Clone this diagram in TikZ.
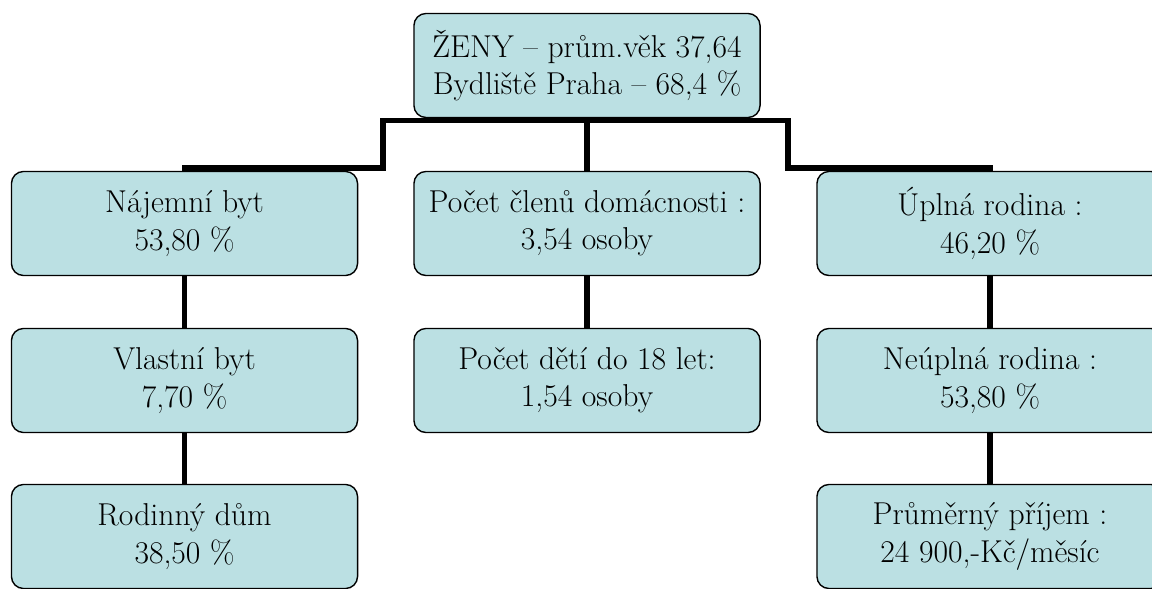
\documentclass[tikz,border=0pt]{standalone}
\usepackage{fontspec}
\definecolor{boxfill}{RGB}{187,224,227}
\tikzset{
  box/.style={draw, line width=1pt, rounded corners=0.3cm, fill=boxfill,
    minimum width=8.65cm, minimum height=2.6cm, align=center,
    font=\fontsize{22.5}{26.5}\selectfont},
  link/.style={line width=4pt}
}
\begin{document}
\begin{tikzpicture}[x=0.025cm,y=-0.025cm]
        \useasboundingbox (0,0) rectangle (1152,589);
        \clip (0,0) rectangle (1152,589);

        \node[box] (top) at (587, 65.5) {ŽENY – prům.věk 37,64\\Bydliště Praha – 68,4 \%};

        \node[box] (byt1) at (184.5, 223.5) {Nájemní byt\\53,80 \%};
        \node[box] (clen) at (587, 223.5) {Počet členů domácnosti :\\3,54 osoby};
        \node[box] (rod1) at (990, 223.5) {Úplná rodina :\\46,20 \%};

        \node[box] (byt2) at (184.5, 380.5) {Vlastní byt\\7,70 \%};
        \node[box] (deti) at (587, 380.5) {Počet dětí do 18 let:\\1,54 osoby};
        \node[box] (rod2) at (990, 380.5) {Neúplná rodina :\\53,80 \%};

        \node[box] (dum) at (184.5, 536.5) {Rodinný dům\\38,50 \%};
        \node[box] (plat) at (990, 536.5) {Průměrný příjem :\\24 900,-Kč/měsíc};

        \coordinate (k0) at (587, 120.5);
        \coordinate (k1) at (383, 168);
        \coordinate (k2) at (788, 168);

        \draw[link] (byt1.north) |- (k1) |- (k0) -| (k2) -| (rod1.north);
        \draw[link] (top.south) -- (clen.north);
        \draw[link] (byt1) -- (byt2);
        \draw[link] (byt2) -- (dum);
        \draw[link] (clen) -- (deti);
        \draw[link] (rod1) -- (rod2);
        \draw[link] (rod2) -- (plat);

\end{tikzpicture}
\end{document}
